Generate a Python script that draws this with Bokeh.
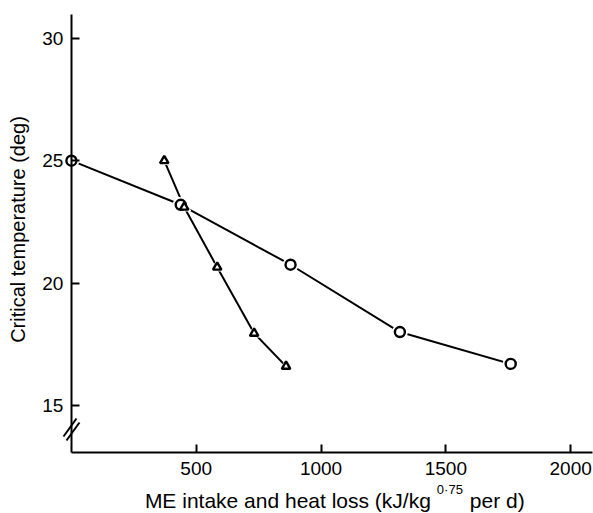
import math
from bokeh.plotting import figure
from bokeh.models import Range1d, FixedTicker, Label, Arrow, LinearAxis
from bokeh.embed import file_html
from bokeh.resources import INLINE

# Data
circle_x = [0, 438, 878, 1316, 1760]
circle_y = [25.0, 23.2, 20.75, 18.0, 16.7]
tri_x = [372, 452, 584, 732, 860]
tri_y = [25.0, 23.1, 20.65, 17.95, 16.6]

x_ticks = [500, 1000, 1500, 2000]
y_ticks = [15, 20, 25, 30]

X_MIN, X_MAX = 0, 2088
Y_MIN, Y_MAX = 13.06, 30.97

FONT = "Liberation Sans"

p = figure(width=593, height=513, output_backend="svg", toolbar_location=None,
           x_range=Range1d(-284, 2091.6), y_range=Range1d(10.588, 31.544),
           x_axis_location=None, y_axis_location=None,
           min_border_left=0, min_border_right=0, min_border_top=0, min_border_bottom=0)
p.outline_line_color = None
p.grid.visible = False
p.background_fill_color = "white"

xax = LinearAxis(fixed_location=Y_MIN, bounds=(X_MIN, X_MAX), ticker=FixedTicker(ticks=x_ticks))
yax = LinearAxis(fixed_location=X_MIN, bounds=(Y_MIN, Y_MAX), ticker=FixedTicker(ticks=y_ticks))
for ax in (xax, yax):
    ax.axis_line_width = 2
    ax.axis_line_color = "black"
    ax.major_tick_line_width = 2
    ax.major_tick_in = 8
    ax.major_tick_out = 0
    ax.minor_tick_line_color = None
    ax.major_label_text_font = FONT
    ax.major_label_text_font_size = "19px"
    ax.major_label_text_color = "black"
xax.major_label_standoff = 9
yax.major_label_standoff = 8
p.add_layout(xax, "below")
p.add_layout(yax, "left")

# Lines and markers
p.line(circle_x, circle_y, line_color="black", line_width=2)
p.line(tri_x, tri_y, line_color="black", line_width=2)
p.scatter(circle_x, circle_y, marker="circle", size=15, fill_color="white", line_color="white", line_width=1)
p.scatter(tri_x, tri_y, marker="triangle", size=13, fill_color="white", line_color="white", line_width=1)
p.scatter(circle_x, circle_y, marker="circle", size=10, fill_color="white", line_color="black", line_width=2.4)
p.scatter(tri_x, tri_y, marker="triangle", size=8.5, fill_color="white", line_color="black", line_width=2.4)

# Axis break marks
p.add_layout(Arrow(end=None, x_start=-31.6, y_start=13.734, x_end=20.4, y_end=14.469,
                   line_width=2, line_color="black"))
p.add_layout(Arrow(end=None, x_start=-19.6, y_start=13.570, x_end=32.4, y_end=14.306,
                   line_width=2, line_color="black"))

# Y axis label
p.add_layout(Label(x=-212, y=22.19, angle=math.pi / 2, text="Critical temperature (deg)",
                   text_align="center", text_baseline="middle",
                   text_font=FONT, text_font_size="20px", text_color="black"))

# X axis label with superscript
split_x = 1440
base_y = 11.10
p.add_layout(Label(x=split_x, y=base_y, text="ME intake and heat loss (kJ/kg",
                   text_align="right", text_baseline="alphabetic",
                   text_font=FONT, text_font_size="21px", text_color="black"))
p.add_layout(Label(x=split_x, y=base_y, x_offset=6, y_offset=11, text="0·75",
                   text_align="left", text_baseline="alphabetic",
                   text_font=FONT, text_font_size="13px", text_color="black"))
p.add_layout(Label(x=split_x, y=base_y, x_offset=39, text="per d)",
                   text_align="left", text_baseline="alphabetic",
                   text_font=FONT, text_font_size="21px", text_color="black"))

open("out.html", "w").write(file_html(p, INLINE))
